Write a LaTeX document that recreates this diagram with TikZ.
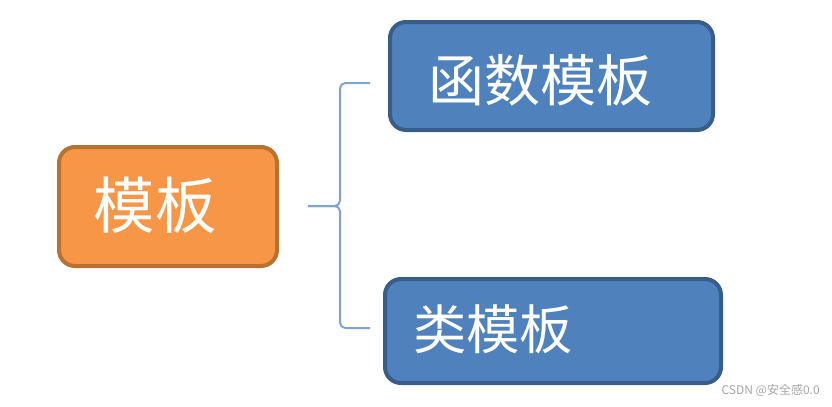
\documentclass[tikz,border=0pt]{standalone}
\usepackage{fontspec}
\newfontfamily\cjk{Noto Sans CJK SC}
\definecolor{orangefill}{HTML}{F79646}
\definecolor{orangeline}{HTML}{B8712F}
\definecolor{bluefill}{HTML}{4F81BD}
\definecolor{blueline}{HTML}{385D8A}
\definecolor{braceblue}{HTML}{7FA3D2}
\tikzset{
  orangebox/.style={draw=orangeline, fill=orangefill, line width=3pt, rounded corners=12pt},
  bluebox/.style={draw=blueline, fill=bluefill, line width=3pt, rounded corners=12pt},
  boxtext/.style={text=white, inner sep=0pt},
  bracket/.style={draw=braceblue, line width=1.5pt, rounded corners=4pt}
}
\begin{document}
\begin{tikzpicture}[x=0.75pt, y=-0.75pt]
        \useasboundingbox (0,0) rectangle (832,407);
        % the boxes
        \node[orangebox, minimum width=163.5pt, minimum height=89.25pt] (templ) at (168,206.5) {};
        \node[bluebox, minimum width=242.25pt, minimum height=81pt] (functempl) at (551.5,76) {};
        \node[bluebox, minimum width=252pt, minimum height=78pt] (classtempl) at (553,331) {};
        % the box texts
        \node[boxtext, font=\cjk\fontsize{46}{46}\selectfont] (templtext) at (155,205) {模板};
        \node[boxtext, font=\cjk\fontsize{42}{42}\selectfont] (functext) at (540,80) {函数模板};
        \node[boxtext, font=\cjk\fontsize{40}{40}\selectfont] (classtext) at (493,329) {类模板};

        % the bracket
        \coordinate (topend) at (370,83);
        \coordinate (topcorner) at (340,83);
        \coordinate (midpt) at (340,206);
        \coordinate (tickend) at (308,206);
        \coordinate (botcorner) at (340,328);
        \coordinate (botend) at (370,328);
        \draw[bracket] (topend) -- (topcorner) -- (midpt) -- (tickend);
        \draw[bracket] (botend) -- (botcorner) -- (midpt) -- (tickend);

        % watermark
        \node[text=gray!70, font=\cjk\fontsize{9}{9}\selectfont, anchor=east, inner sep=0pt] (mark) at (820,390) {CSDN @安全感0.0};
    \end{tikzpicture}
\end{document}
